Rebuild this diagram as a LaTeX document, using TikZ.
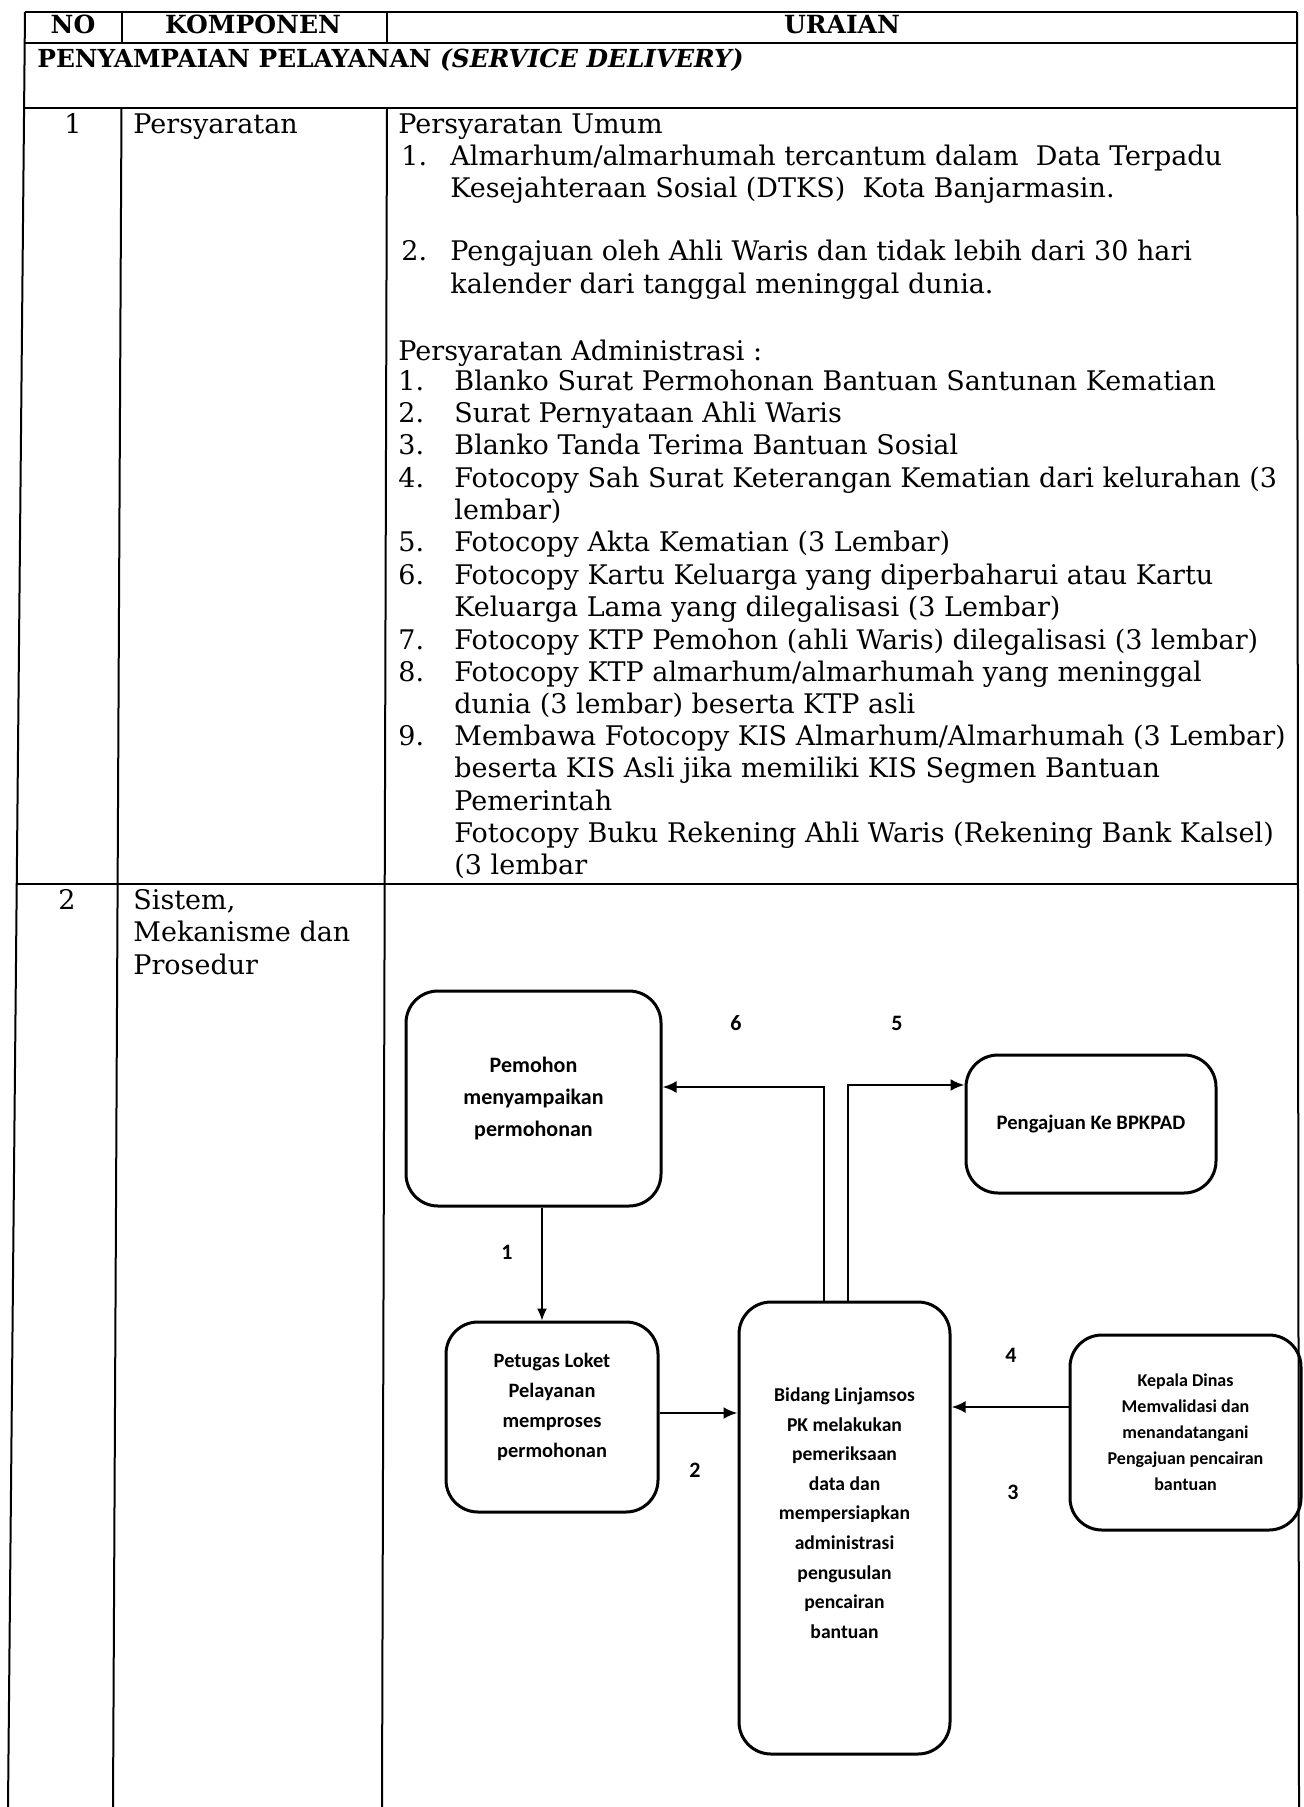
\documentclass[tikz,border=0pt]{standalone}
\usepackage{fontspec}
\setmainfont{DejaVu Serif}
\newfontfamily\chartfont{Carlito}
\usetikzlibrary{arrows.meta}

\tikzset{
	gridline/.style={line width=1pt},
	celltext/.style={anchor=west, inner sep=0pt, text height=0.8em, text depth=0.2em, font=\fontsize{13.5}{15}\selectfont},
	headtext/.style={inner sep=0pt, text height=0.8em, text depth=0.2em, font=\bfseries\fontsize{12.5}{14}\selectfont},
	flowbox/.style={draw, line width=1.5pt, rounded corners=16pt, align=center, inner sep=2pt},
	boxtext/.style={align=center, inner sep=0pt},
	steplabel/.style={inner sep=0pt, font=\chartfont\bfseries\fontsize{11}{13}\selectfont},
	arr/.style={line width=1.3pt, -{Latex[length=7pt,width=6pt]}},
	thinarr/.style={line width=0.7pt, -{Latex[length=6pt,width=5pt]}}
}

\begin{document}
\begin{tikzpicture}[x=0.5pt, y=-0.5pt]
\fill [white] (0,0) rectangle (1303,1807);
\useasboundingbox (0,0) rectangle (1303,1807);

% table rules
\draw [gridline] (25,12) -- (1297,12);
\draw [gridline] (24.7,43) -- (1297,43);
\draw [gridline] (24.1,108) -- (1297,108);
\draw [gridline] (16.7,884) -- (1298,884);
\draw [gridline] (25,12) -- (8,1807);
\draw [gridline] (1297,12) -- (1299,1807);
\draw [gridline] (122,12) -- (122,43);
\draw [gridline] (121.5,108) -- (113,1807);
\draw [gridline] (387,12) -- (387,43);
\draw [gridline] (387,108) -- (382,1807);

% header
\node [headtext] (hNo) at (73,28) {NO};
\node [headtext] (hKomp) at (253,28) {KOMPONEN};
\node [headtext] (hUraian) at (842,28) {URAIAN};
\node [headtext, anchor=west, font=\bfseries\fontsize{12.4}{14}\selectfont] (hSection) at (37,62) {PENYAMPAIAN PELAYANAN \textit{(SERVICE DELIVERY)}};

% row 1
\node [celltext, anchor=center] (r1No) at (73,128) {1};
\node [celltext] (r1Komp) at (133,128) {Persyaratan};
\node [celltext] (umum) at (398,128) {Persyaratan Umum};
\node [celltext] (u1n) at (401,160) {1.};
\node [celltext] (u1a) at (450,160) {Almarhum/almarhumah tercantum dalam\ \ Data Terpadu};
\node [celltext] (u1b) at (450,192) {Kesejahteraan Sosial (DTKS)\ \ Kota Banjarmasin.};
\node [celltext] (u2n) at (401,255) {2.};
\node [celltext] (u2a) at (450,255) {Pengajuan oleh Ahli Waris dan tidak lebih dari 30 hari};
\node [celltext] (u2b) at (450,288) {kalender dari tanggal meninggal dunia.};
\node [celltext] (adm) at (398,355) {Persyaratan Administrasi :};
\node [celltext] (a1n) at (398,385) {1.};
\node [celltext] (a1) at (454,385) {Blanko Surat Permohonan Bantuan Santunan Kematian};
\node [celltext] (a2n) at (398,417) {2.};
\node [celltext] (a2) at (454,417) {Surat Pernyataan Ahli Waris};
\node [celltext] (a3n) at (398,449) {3.};
\node [celltext] (a3) at (454,449) {Blanko Tanda Terima Bantuan Sosial};
\node [celltext] (a4n) at (398,482) {4.};
\node [celltext] (a4) at (454,482) {Fotocopy Sah Surat Keterangan Kematian dari kelurahan (3};
\node [celltext] (a4b) at (454,514) {lembar)};
\node [celltext] (a5n) at (398,546) {5.};
\node [celltext] (a5) at (454,546) {Fotocopy Akta Kematian (3 Lembar)};
\node [celltext] (a6n) at (398,578) {6.};
\node [celltext] (a6) at (454,578) {Fotocopy Kartu Keluarga yang diperbaharui atau Kartu};
\node [celltext] (a6b) at (454,610) {Keluarga Lama yang dilegalisasi (3 Lembar)};
\node [celltext] (a7n) at (398,643) {7.};
\node [celltext] (a7) at (454,643) {Fotocopy KTP Pemohon (ahli Waris) dilegalisasi (3 lembar)};
\node [celltext] (a8n) at (398,675) {8.};
\node [celltext] (a8) at (454,675) {Fotocopy KTP almarhum/almarhumah yang meninggal};
\node [celltext] (a8b) at (454,707) {dunia (3 lembar) beserta KTP asli};
\node [celltext] (a9n) at (398,739) {9.};
\node [celltext] (a9) at (454,739) {Membawa Fotocopy KIS Almarhum/Almarhumah (3 Lembar)};
\node [celltext] (a9b) at (454,771) {beserta KIS Asli jika memiliki KIS Segmen Bantuan};
\node [celltext] (a9c) at (454,804) {Pemerintah};
\node [celltext] (a10) at (454,836) {Fotocopy Buku Rekening Ahli Waris (Rekening Bank Kalsel)};
\node [celltext] (a10b) at (454,868) {(3 lembar};

% row 2
\node [celltext, anchor=center] (r2No) at (67,903) {2};
\node [celltext] (r2Komp) at (133,903) {Sistem,};
\node [celltext] (r2Kompb) at (133,935) {Mekanisme dan};
\node [celltext] (r2Kompc) at (133,968) {Prosedur};

% flowchart
\node [flowbox, minimum width=127.5pt, minimum height=107.5pt, font=\chartfont\bfseries\fontsize{11}{16}\selectfont] (pemohon) at (533.5,1098.5) {Pemohon\\menyampaikan\\permohonan};
\node [flowbox, minimum width=125pt, minimum height=69pt, font=\chartfont\bfseries\fontsize{10.3}{14}\selectfont] (bpkpad) at (1091,1124) {Pengajuan Ke BPKPAD};
\node [flowbox, minimum width=106pt, minimum height=95pt] (petugas) at (552,1417) {};
\node [boxtext, font=\chartfont\bfseries\fontsize{10.2}{15}\selectfont] (petugasText) at ([yshift=5pt]petugas.center) {Petugas Loket\\Pelayanan\\memproses\\permohonan};
\node [flowbox, minimum width=105.5pt, minimum height=226pt] (bidang) at (844.5,1528) {};
\node [boxtext, font=\chartfont\bfseries\fontsize{9.8}{14.8}\selectfont] (bidangText) at ([yshift=7.5pt]bidang.center) {Bidang Linjamsos\\PK melakukan\\pemeriksaan\\data dan\\mempersiapkan\\administrasi\\pengusulan\\pencairan\\bantuan};
\node [flowbox, minimum width=115.5pt, minimum height=97.5pt, font=\chartfont\bfseries\fontsize{9}{13}\selectfont] (kadis) at (1185.5,1432.5) {Kepala Dinas\\Memvalidasi dan\\menandatangani\\Pengajuan pencairan\\bantuan};

\draw [thinarr] ([xshift=4.25pt]pemohon.south) -- ([xshift=4.25pt]pemohon.south |- petugas.north);
\draw [arr] ([yshift=2pt]petugas.east) -- ([yshift=2pt]petugas.east -| bidang.west);
\draw [arr] ([yshift=12.75pt]kadis.west) -- ([yshift=12.75pt]kadis.west -| bidang.east);
\draw [arr] ([xshift=-10.25pt]bidang.north) |- ([yshift=5.75pt]pemohon.east);
\draw [arr] ([xshift=1.75pt]bidang.north) |- ([yshift=19.5pt]bpkpad.west);

\node [steplabel] (s1) at (507,1252) {1};
\node [steplabel] (s2) at (695,1470) {2};
\node [steplabel] (s3) at (1013,1492) {3};
\node [steplabel] (s4) at (1011,1355) {4};
\node [steplabel] (s5) at (897,1023) {5};
\node [steplabel] (s6) at (736,1023) {6};

\end{tikzpicture}
\end{document}
